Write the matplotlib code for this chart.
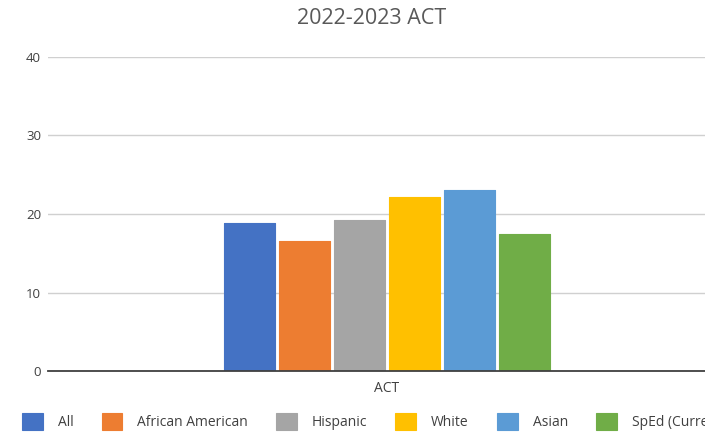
import matplotlib
matplotlib.use("Agg")
import matplotlib.pyplot as plt
import numpy as np

categories = ["ACT"]
series_names = ["All", "African American", "Hispanic", "White", "Asian", "SpEd (Current)"]
series_values = [18.9, 16.6, 19.2, 22.2, 23.1, 17.5]
colors = ["#4472C4", "#ED7D31", "#A5A5A5", "#FFC000", "#5B9BD5", "#70AD47"]
yticks = [0, 10, 20, 30, 40]
title = "2022-2023 ACT"

plt.rcParams['font.family'] = ['Open Sans', 'DejaVu Sans']

fig = plt.figure(figsize=(7.05, 4.32), dpi=100)
ax = fig.add_axes([48/705, 1-371/432, 678/705, (371-57)/432])

n = len(series_names)
step = 1.0
width = 0.927
handles = []
for i, (name, val, c) in enumerate(zip(series_names, series_values, colors)):
    off = (i - (n - 1) / 2) * step
    b = ax.bar([0 + off], [val], width=width, color=c, label=name, zorder=3,
               edgecolor=c, linewidth=0.8, joinstyle='round')
    handles.append(b)

half = 678 / 55 / 2
ax.set_xlim(-half, half)
ax.set_ylim(0, 40)
ax.set_yticks(yticks)
ax.set_yticklabels([str(t) for t in yticks], fontsize=9.5, color="#404040")
ax.set_xticks([0])
ax.set_xticklabels(categories, fontsize=10, color="#404040")
ax.tick_params(axis='x', length=0, pad=7)
ax.tick_params(axis='y', length=0, pad=5)
ax.grid(axis='y', color="#d0d0d0", linewidth=1.0, zorder=0)
for s in ["top", "right", "left"]:
    ax.spines[s].set_visible(False)
ax.spines["bottom"].set_color("#404040")
ax.spines["bottom"].set_linewidth(1.3)
ax.spines["bottom"].set_zorder(4)

fig.text(372/705, 1-19/432, title, ha='center', va='center', fontsize=15.5,
         color="#595959")

leg = fig.legend(handles=handles, labels=series_names, loc='center left',
                 bbox_to_anchor=(22/705, 1-421.5/432), ncol=6, frameon=False,
                 fontsize=10, handlelength=1.51, handleheight=1.44,
                 handletextpad=1.08, columnspacing=2.0, borderaxespad=0,
                 borderpad=0)
for t in leg.get_texts():
    t.set_color("#404040")

fig.savefig("out.png", dpi=100)
